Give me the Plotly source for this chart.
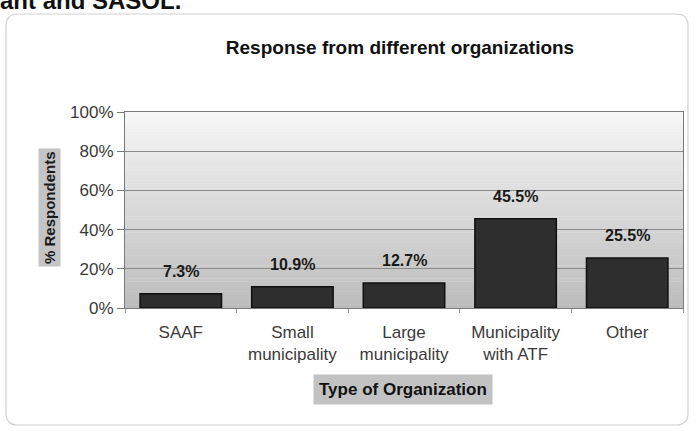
import plotly.graph_objects as go

# Survey data
categories = ["SAAF", "Small<br>municipality", "Large<br>municipality",
              "Municipality<br>with ATF", "Other"]
share_pct = [7.3, 10.9, 12.7, 45.5, 25.5]
y_ticks = [0, 20, 40, 60, 80, 100]
y_tick_labels = [f"{t}%" for t in y_ticks]

FONT = "Liberation Sans, Arial, sans-serif"

# Plot area in pixels (used to place things around it in paper units)
W, H = 698, 431
L, R, T, B = 125, 15, 112, 123
PW, PH = W - L - R, H - T - B


def px(xp):
    return (xp - L) / PW


def py(yp):
    return (H - B - yp) / PH


fig = go.Figure()

fig.add_trace(go.Bar(
    x=categories,
    y=share_pct,
    width=0.73,
    marker=dict(color="#2e2e2e", line=dict(color="#101010", width=1.5)),
    hoverinfo="skip",
))

# Value labels above the bars
for cat, v in zip(categories, share_pct):
    fig.add_annotation(
        x=cat, y=v, text=f"<b>{v}%</b>", showarrow=False,
        yanchor="bottom", yshift=12,
        font=dict(family=FONT, size=16, color="#1a1a1a"),
    )

# Vertical grey gradient behind the plot area
n_strips = 60
top_rgb = (246, 246, 246)
bot_rgb = (188, 188, 188)
for i in range(n_strips):
    f = i / (n_strips - 1)
    c = tuple(round(bot_rgb[k] + (top_rgb[k] - bot_rgb[k]) * f) for k in range(3))
    fig.add_shape(
        type="rect", xref="x domain", yref="y domain",
        x0=0, x1=1, y0=i / n_strips, y1=(i + 1) / n_strips + 0.002,
        fillcolor=f"rgb{c}", line=dict(width=0), layer="below",
    )

# Rounded frame around the whole chart
fx0, fx1, fy0, fy1 = px(6), px(688), py(425), py(14)
rx, ry = 12 / PW, 12 / PH
path = (f"M {fx0+rx},{fy1} L {fx1-rx},{fy1} Q {fx1},{fy1} {fx1},{fy1-ry} "
        f"L {fx1},{fy0+ry} Q {fx1},{fy0} {fx1-rx},{fy0} L {fx0+rx},{fy0} "
        f"Q {fx0},{fy0} {fx0},{fy0+ry} L {fx0},{fy1-ry} Q {fx0},{fy1} {fx0+rx},{fy1} Z")
fig.add_shape(type="path", xref="paper", yref="paper", path=path,
              line=dict(color="#d0d0d0", width=1.2), layer="below")

# Axis titles with shaded background
fig.add_annotation(
    xref="paper", yref="paper", x=px(49), y=py(208),
    xanchor="center", yanchor="middle",
    text="<b>% Respondents</b>", textangle=-90, showarrow=False,
    font=dict(family=FONT, size=15, color="#1a1a1a"),
    bgcolor="#c4c4c4", borderpad=2,
)
fig.add_annotation(
    xref="paper", yref="paper", x=px(403), y=py(389),
    xanchor="center", yanchor="middle",
    text="<b>Type of Organization</b>", showarrow=False,
    font=dict(family=FONT, size=17, color="#111111"),
    bgcolor="#c2c2c2", borderpad=5,
)

# Tail of the preceding page text, partly cut off at the top edge
fig.add_annotation(
    xref="paper", yref="paper", x=px(-2), y=py(0), xanchor="left", yanchor="middle",
    text="<b>ant and SASOL.</b>", showarrow=False,
    font=dict(family=FONT, size=24, color="#111111"),
)

fig.update_layout(
    width=W, height=H,
    margin=dict(l=L, r=R, t=T, b=B),
    paper_bgcolor="white",
    plot_bgcolor="rgba(0,0,0,0)",
    showlegend=False,
    title=dict(
        text="<b>Response from different organizations</b>",
        x=400 / W, xanchor="center", y=1 - 47 / H, yanchor="middle",
        font=dict(family=FONT, size=19, color="#111111"),
    ),
    xaxis=dict(
        showline=True, linecolor="#7a7a7a", linewidth=1.2, mirror=True,
        ticks="outside", tickson="boundaries", ticklen=4, tickcolor="#9a9a9a",
        tickfont=dict(family=FONT, size=17, color="#3a3a3a"),
        ticklabelstandoff=8,
        fixedrange=True,
    ),
    yaxis=dict(
        range=[0, 100], tickvals=y_ticks, ticktext=y_tick_labels,
        showgrid=True, gridcolor="#8a8a8a", gridwidth=1,
        showline=True, linecolor="#7a7a7a", linewidth=1.2, mirror=True,
        ticks="outside", ticklen=7, tickcolor="#7a7a7a",
        tickfont=dict(family=FONT, size=17, color="#3a3a3a"),
        zeroline=False, fixedrange=True,
    ),
)

fig.write_html("out.html")
